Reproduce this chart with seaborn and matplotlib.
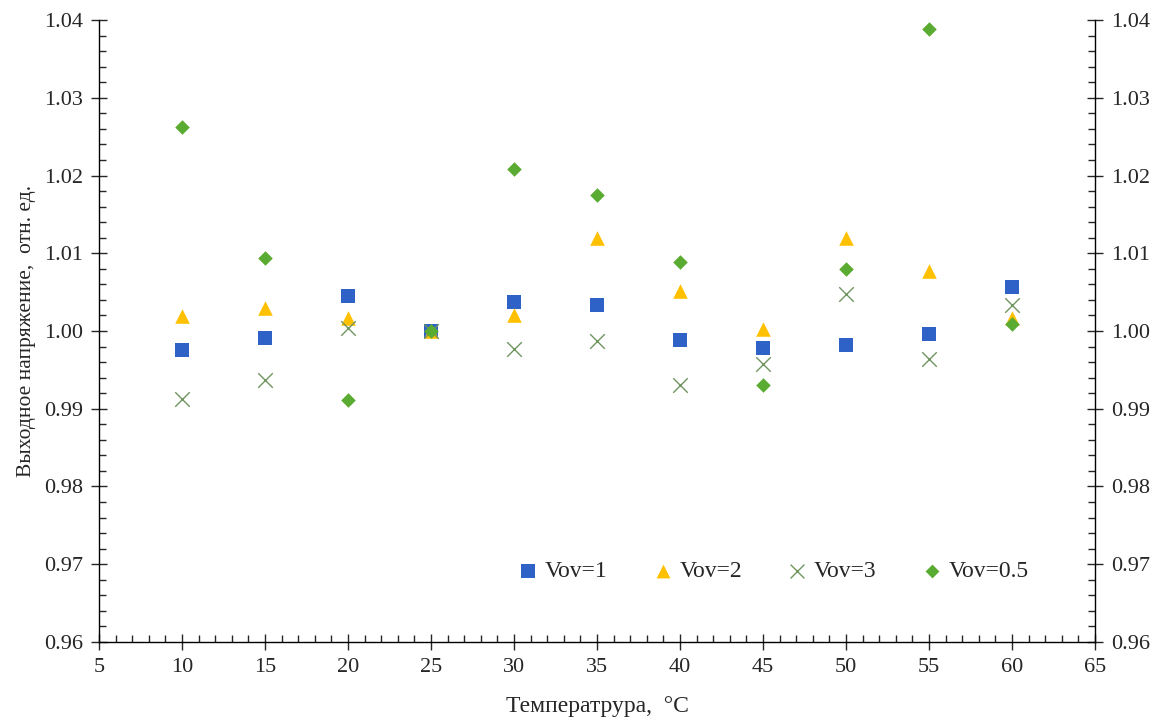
import numpy as np
import pandas as pd
import matplotlib
matplotlib.use("Agg")
import matplotlib.pyplot as plt
from matplotlib.ticker import MultipleLocator, FormatStrFormatter
import seaborn as sns

# Data
temperature = [10, 15, 20, 25, 30, 35, 40, 45, 50, 55, 60]
vov_1 = [0.9975, 0.9991, 1.0045, 1.0000, 1.0037, 1.0034, 0.9988, 0.9978, 0.9982, 0.9996, 1.0056]
vov_2 = [1.0019, 1.0029, 1.0017, 1.0000, 1.0020, 1.0119, 1.0051, 1.0002, 1.0120, 1.0077, 1.0017]
vov_3 = [0.9912, 0.9937, 1.0004, 1.0000, 0.9977, 0.9987, 0.9930, 0.9957, 1.0048, 0.9964, 1.0033]
vov_05 = [1.0263, 1.0094, 0.9911, 1.0000, 1.0208, 1.0175, 1.0089, 0.9930, 1.0080, 1.0389, 1.0009]

series = {
    "Vov=1": vov_1,
    "Vov=2": vov_2,
    "Vov=3": vov_3,
    "Vov=0.5": vov_05,
}

sns.set_style("white")
plt.rcParams["font.family"] = ["Liberation Serif", "DejaVu Serif"]

fig = plt.figure(figsize=(11.74, 7.25), dpi=100)
ax = fig.add_axes([0.0843, 0.1145, 0.9327 - 0.0843, 0.9724 - 0.1145])

styles = {
    "Vov=1": dict(marker="s", color="#2E62C6", s=100, linewidth=0),
    "Vov=2": dict(marker="^", color="#FFC000", s=110, linewidth=0),
    "Vov=3": dict(marker="x", color="#6F9660", s=110, linewidth=1.0),
    "Vov=0.5": dict(marker="D", color="#5AAB32", s=55, linewidth=0),
}

for name, vals in series.items():
    df = pd.DataFrame({"t": temperature, "v": vals})
    sns.scatterplot(data=df, x="t", y="v", ax=ax, label=name, **styles[name])

ax.set_xlim(5, 65)
ax.set_ylim(0.96, 1.04)
ax.xaxis.set_major_locator(MultipleLocator(5))
ax.xaxis.set_minor_locator(MultipleLocator(1))
ax.yaxis.set_major_locator(MultipleLocator(0.01))
ax.yaxis.set_minor_locator(MultipleLocator(0.002))
ax.yaxis.set_major_formatter(FormatStrFormatter("%.2f"))

for side in ["left", "right", "bottom"]:
    ax.spines[side].set_visible(True)
    ax.spines[side].set_color("black")
    ax.spines[side].set_linewidth(1.0)
ax.spines["top"].set_visible(False)

ax.tick_params(which="major", direction="inout", length=11, width=1.0,
               left=True, right=True, bottom=True, top=False,
               labelleft=True, labelright=True, labelsize=16, pad=6)
ax.tick_params(which="minor", direction="in", length=5, width=1.0,
               left=True, right=True, bottom=True, top=False)

ax.set_xlabel("Температрура,  °C", fontsize=17, labelpad=14)
ax.set_ylabel("Выходное напряжение,  отн. ед.", fontsize=15.5, labelpad=6)

leg = ax.legend(loc="center right", bbox_to_anchor=(0.943, 0.114), ncol=4, frameon=False,
                fontsize=17, handlelength=0.7, handletextpad=0.35, columnspacing=2.0,
                markerscale=0.95, borderaxespad=0)

fig.savefig("out.png", dpi=100)
